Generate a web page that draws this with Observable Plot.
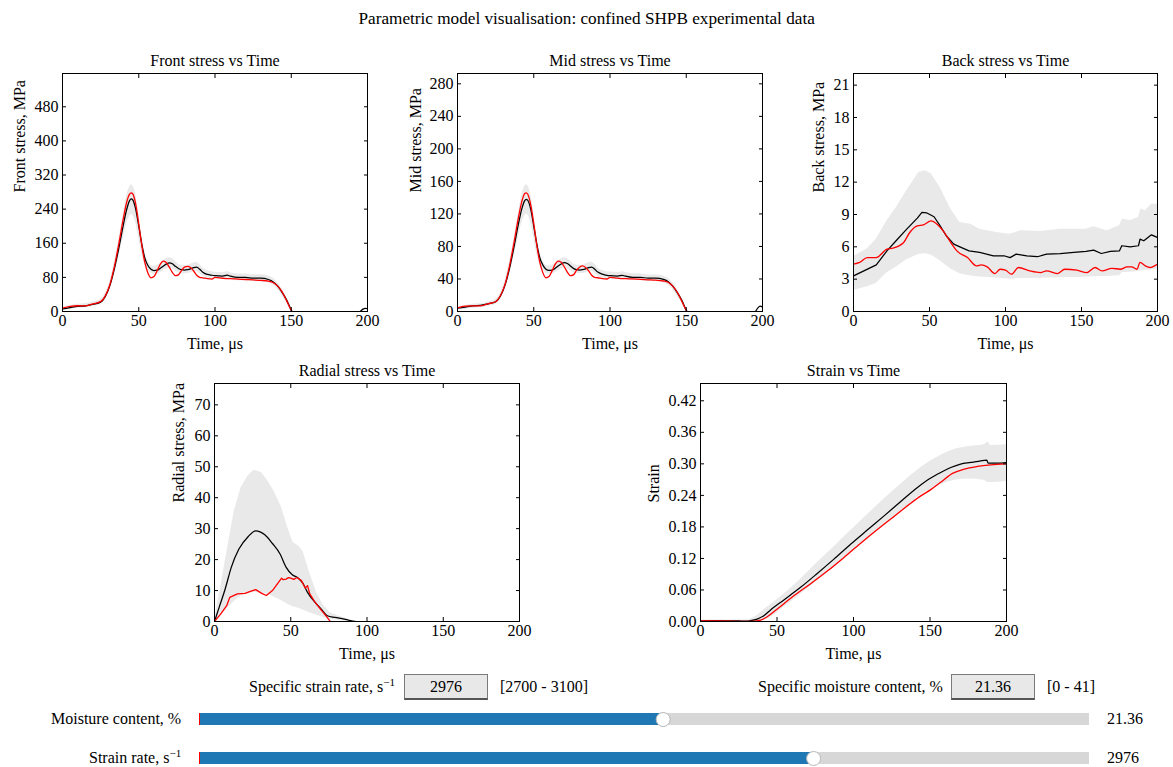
<!DOCTYPE html>
<html>
<head>
<meta charset="utf-8">
<script src="https://cdn.jsdelivr.net/npm/d3@7"></script>
<script src="https://cdn.jsdelivr.net/npm/@observablehq/plot@0.6"></script>
<style>
  body { margin: 0; background: #fff; font-family: "Liberation Serif", "Times New Roman", serif; color: #000; }
  #root { position: relative; width: 1173px; height: 767px; overflow: hidden; }
  .abs { position: absolute; white-space: nowrap; font-size: 16px; line-height: 1; }
  .box { position: absolute; background: #e8e8e8; border: 1px solid #7a7a7a; border-bottom: 2px solid #555;
         box-sizing: border-box; font-size: 16px; display: flex; align-items: center; justify-content: center; }
  sup { font-size: 11px; vertical-align: 0; position: relative; top: -6px; }
  svg { overflow: visible; }
</style>
</head>
<body>
<div id="root"></div>
<script>
// ---- time grid shared by front and mid stress ----
const timeFM = [0,5,10,15,20, 25,28,31,34,37, 40,42,44,45,46, 48,50,52,54,56, 58,60,62,64,66, 68,70,72,74,76,
                78,80,82,84,86, 88,90,92,95,98, 100,105,108,110,115, 120,125,130,135,138, 141,144,147,150,153];

const frontMean  = [6,9,12,13,17, 22,35,60,100,150, 205,238,260,264,262, 240,200,158,125,108, 99,96,97,101,106,
                    111,114,112,106,101, 98,97,98,100,103, 104,99,92,87,85, 84,83,85,83,80, 80,78,78,75,70, 60,45,27,3,-15];
const frontRed   = [8,12,13.5,13,18, 23,36,62,105,160, 220,255,275,278,276, 252,205,155,115,90, 79,82,95,110,118,
                    115,104,92,84,86, 96,104,106,103,95, 85,80,79,77,76, 80,78,77,77,76, 75,74,73,71,68, 60,46,25,3,-12];
const frontUpper = [10,14,17,18,22, 28,42,70,115,170, 232,270,292,297,295, 275,230,180,140,118, 108,106,108,112,118,
                    123,126,124,118,111, 108,107,108,111,114, 115,110,102,96,93, 92,91,93,91,88, 88,86,86,83,78, 68,53,33,8,-10];
const frontLower = [3,5,8,9,12, 16,28,50,85,128, 175,205,222,228,226, 208,172,135,108,97, 90,87,87,91,95,
                    99,102,100,95,91, 89,88,89,90,93, 94,89,83,79,77, 76,75,77,75,72, 72,70,70,67,62, 52,37,21,-2,-20];

const midMean  = [4,5.5,7,7.5,9.5, 12,18.5,31.5,52,79, 108,125,136,138,137, 126,105,83,66,57, 52,50.5,51,53,56,
                  58.5,60,59,56,53, 51.5,51,51.5,52.5,54, 54.5,52,48.5,46,44.5, 44,43.5,44.5,43.5,42, 42,41,41,39.5,37, 31.5,23.5,14,1.5,-8];
const midRed   = [4.5,6.5,7,7,9.5, 12,19,32.5,55,84, 116,134,145,146,144.5, 131.5,108,81.5,60.5,47.5, 41.5,43,50,58,62,
                  60.5,55,48.5,44,45, 50.5,54.5,56,54,50, 44.5,42,41.5,40.5,40, 42,41,40.5,40.5,40, 39.5,39,38.5,37.5,36, 31.5,24,13,1.5,-6];
const midUpper = [5.5,7.5,9,9.5,11.5, 15,22,37,60.5,89.5, 122,142,153.5,156,155, 144.5,121,94.5,73.5,62, 57,56,57,59,62,
                  64.5,66,65,62,58.5, 57,56.5,57,58.5,60, 60.5,58,53.5,50.5,49, 48.5,48,49,48,46.5, 46.5,45,45,43.5,41, 36,28,17.5,4,-5];
const midLower = [1.5,2.5,4,5,6.5, 8.5,14.5,26,44.5,67.5, 92,108,117,120,119, 109.5,90.5,71,57,51, 47.5,46,46,48,50,
                  52,53.5,52.5,50,48, 47,46.5,47,47.5,49, 49.5,47,43.5,41.5,40.5, 40,39.5,40.5,39.5,38, 38,37,37,35,32.5, 27.5,19.5,11,-1,-10];

// the mean curves swing back above zero just before 200 µs
const timeTail  = [160,175,188,192,194,195.5,197,198.5,200];
const frontTail = [-40,-45,-30,-12,-3,1,5.5,7.5,6.5];
const midTail   = [-20,-22,-15,-6,-1.5,0.5,4.5,6.5,5.5];

// ---- back stress ----
const backTimeMean = [0,15,22,28,35, 42,45,48,53,57, 61,66,70,76,83, 92,99,103,107,114, 121,127,136,145,153,
                      158,163,169,175,176.5, 182,187.5,188.5,191,196, 200];
const backMean     = [3.3,4.33,5.63,6.56,7.64, 8.66,9.19,9.16,8.79,7.95, 7.03,6.25,6.0,5.63,5.48, 5.17,5.17,5.0,5.32,5.17,
                      5.08,5.32,5.38,5.48,5.57, 5.69,5.38,5.57,5.63,6.1, 6.0,6.1,6.71,6.56,7.11, 6.87];
const backTimeRed  = [0,4,9,15,22, 26,33,37,42,46, 51,55,59,64,68, 75,81,84,88,93, 96.5,100,104,108.5,116,
                      123,127,134,139,147, 153.5,159,163.5,170,175.5, 180,183,186.5,188.5,192, 195,200];
const backRed      = [4.39,4.55,5.0,5.0,5.79, 5.88,6.4,7.33,7.95,8.04, 8.41,8.1,7.48,6.4,5.63, 5.0,4.23,4.33,4.14,3.52,
                      3.92,3.83,3.46,4.08,3.77, 3.61,3.77,3.52,3.92,3.83, 3.61,4.08,3.77,4.01,3.92, 4.14,4.14,3.92,4.55,4.23, 4.08,4.39];
const backTimeBand = [0,9,15,22,28, 35,43,47,51,57, 64,70,77,83,94, 103,110,123,136,153, 158,167,175,177,182, 187.5,189,192,196,200];
const backUpper    = [5.1,5.8,6.7,8.4,9.6, 11.2,12.9,13.05,12.8,11.5, 9.5,8.26,8.1,7.64,7.33, 7.17,7.48,7.42,7.64,7.64,
                      7.86,7.48,7.95,8.57,8.41, 8.72,9.5,9.35,9.96,9.96];
const backLower    = [1.95,2.3,2.6,3.6,4.1, 4.8,5.3,5.35,5.25,4.7, 3.95,3.5,3.3,3.2,3.1, 3.0,3.05,3.09,3.12,3.18,
                      3.22,3.25,3.31,3.62,3.65, 3.7,3.77,3.8,3.85,3.92];

// ---- radial stress ----
const radialTimeMean = [0,3,7,11,16, 22,27,33,38,43, 47,51,55,58,61, 66,70,74,79,85, 90,93,200];
const radialMean     = [0,4.5,10.5,17.5,23.4, 27.4,29.3,28,25.2,21.8, 17.5,15.1,14.0,12.3,9.4, 6.15,4.0,1.85,1.3,0.8, 0.2,0,0];
const radialTimeRed  = [0,4,8,10,15, 20,24,27,31,34, 38,44,45,47,48.5, 50,52,54,57,59.5, 61,62.5,66,70,73, 75.5,76.5];
const radialRed      = [0,2.4,5.1,7.8,8.9, 9.1,9.8,10.3,9.1,8.4, 10.0,14.0,13.5,13.7,14.2, 14.0,13.6,14.2,13.2,10.8,
                        11.6,8.9,6.2,3.7,1.9, 0.3,-0.5];
const radialTimeBand = [0,4,9,13,17.5, 22,26,31,35,39, 44,48,51.5,55,58, 62,67,71,75.5,81, 87.5,92];
const radialUpper    = [0.5,11,25,35.7,43.3, 47,48.9,48.1,45.4,42.2, 36.8,30.4,25.5,24.4,22.8, 16.3,9.3,5.6,2.9,1.8, 0.8,0];
const radialLower    = [0,2,4.5,6.5,8.3, 9,9.4,9.2,8.9,7.9, 6.7,5.6,4.8,4.3,3.7, 2.9,2.0,1.4,0.8,0.3, 0.1,0];

// ---- strain ----
const strainTimeMean = [0,10,20,25,30, 32.7,37,41.4,45.8,54.5, 65.4,76.3,87.2,98.1,109, 120,130.9,141.8,150.5,157,
                        163.6,170,176.7,183.2,187.1, 188,194,200];
const strainMean     = [0.001,0.0015,0.0012,0.001,0.0005, 0.0015,0.0045,0.011,0.022,0.041, 0.065,0.0914,0.1187,0.147,0.174,
                        0.201,0.2284,0.2551,0.273,0.2835, 0.293,0.2995,0.3026,0.3058,0.307, 0.3013,0.3013,0.3026];
const strainTimeRed  = [0,10,20,28,32.7, 39.3,43.6,50.2,61,72, 82.9,93.8,104.7,115.6,126.5, 137.4,144,150.5,157,164.7,
                        172.3,181,189.7,200];
const strainRed      = [0.001,0.0012,0.0008,0,0, 0.0025,0.009,0.024,0.049,0.072, 0.096,0.122,0.149,0.175,0.2,
                        0.225,0.239,0.251,0.265,0.282, 0.29,0.295,0.298,0.3];
const strainTimeBand = [0,30,32.7,43.6,54.5, 65.4,76.3,87.2,98.1,109, 120,130.9,141.8,152.7,163.6, 174.5,185.4,188,189.7,200];
const strainUpper    = [0.003,0.003,0.0048,0.027,0.052, 0.0805,0.112,0.142,0.1725,0.203, 0.233,0.261,0.288,0.309,0.325,
                        0.3325,0.3363,0.341,0.335,0.3363];
const strainLower    = [0,0,0,0.0048,0.027, 0.052,0.077,0.104,0.131,0.157, 0.182,0.2076,0.236,0.255,0.267,
                        0.271,0.269,0.2646,0.2646,0.2665];

// ---- ticks ----
const timeTicks   = [0, 50, 100, 150, 200];
const frontTicks  = [0, 80, 160, 240, 320, 400, 480];
const midTicks    = [0, 40, 80, 120, 160, 200, 240, 280];
const backTicks   = [0, 3, 6, 9, 12, 15, 18, 21];
const radialTicks = [0, 10, 20, 30, 40, 50, 60, 70];
const strainTicks = [0, 0.06, 0.12, 0.18, 0.24, 0.30, 0.36, 0.42];

// ---- controls ----
const strainRate = 2976;
const strainRateRange = [2700, 3100];
const moisture = 21.36;
const moistureRange = [0, 41];

const root = document.getElementById("root");

function series(t, v) { return t.map((x, i) => ({t: x, v: v[i]})); }
function band(t, lo, hi) { return t.map((x, i) => ({t: x, lo: lo[i], hi: hi[i]})); }

const ML = 62, MR = 14, MT = 30, MB = 46;

function panel(cfg) {
  const [fx, fy, fw, fh] = cfg.frame;
  const curve = cfg.curve || "monotone-x";
  const chart = Plot.plot({
    width: fw + ML + MR,
    height: fh + MT + MB,
    marginLeft: ML, marginRight: MR, marginTop: MT, marginBottom: MB,
    style: {fontFamily: '"Liberation Serif", serif', fontSize: "16px", color: "#000", background: "transparent", overflow: "visible"},
    x: {domain: [0, 200], label: null},
    y: {domain: cfg.yDomain, label: null},
    marks: [
      Plot.areaY(cfg.band, {x: "t", y1: "lo", y2: "hi", fill: "#e9e9e9", curve: cfg.bandCurve || curve, clip: true}),
      Plot.lineY(cfg.mean, {x: "t", y: "v", stroke: "#000", strokeWidth: 1.25, curve: cfg.meanCurve || curve, clip: true}),
      Plot.lineY(cfg.red, {x: "t", y: "v", stroke: "#ff0000", strokeWidth: 1.3, curve: cfg.redCurve || curve, clip: true}),
      Plot.frame({stroke: "#000", strokeWidth: 1}),
      Plot.axisX({anchor: "bottom", ticks: timeTicks, tickSize: -4, tickPadding: 7, label: null}),
      Plot.axisX({anchor: "top", ticks: timeTicks, tickSize: -4, tickFormat: () => "", label: null}),
      Plot.axisY({anchor: "left", ticks: cfg.yTicks, tickSize: -4, tickPadding: 8, tickFormat: cfg.yFormat || (d => String(d)), label: null}),
      Plot.axisY({anchor: "right", ticks: cfg.yTicks, tickSize: -4, tickFormat: () => "", label: null}),
      Plot.text([cfg.title], {text: d => d, frameAnchor: "top", dy: -13, lineAnchor: "middle"}),
      Plot.text([cfg.ylabel], {text: d => d, frameAnchor: "left", rotate: -90, dx: -cfg.ylabelOffset, lineAnchor: "middle"}),
      Plot.text(["Time, μs"], {text: d => d, frameAnchor: "bottom", dy: 32, lineAnchor: "middle"})
    ]
  });
  chart.style.position = "absolute";
  chart.style.left = (fx - ML) + "px";
  chart.style.top = (fy - MT) + "px";
  root.appendChild(chart);
}

panel({
  frame: [62, 73, 305, 238], yDomain: [0, 558], yTicks: frontTicks,
  title: "Front stress vs Time", ylabel: "Front stress, MPa", ylabelOffset: 43,
  band: band(timeFM, frontLower, frontUpper),
  mean: series(timeFM.concat(timeTail), frontMean.concat(frontTail)),
  red: series(timeFM, frontRed)
});
panel({
  frame: [457, 73, 305, 238], yDomain: [0, 292.7], yTicks: midTicks,
  title: "Mid stress vs Time", ylabel: "Mid stress, MPa", ylabelOffset: 42,
  band: band(timeFM, midLower, midUpper),
  mean: series(timeFM.concat(timeTail), midMean.concat(midTail)),
  red: series(timeFM, midRed)
});
panel({
  frame: [853, 73, 304, 238], yDomain: [0, 22.08], yTicks: backTicks,
  title: "Back stress vs Time", ylabel: "Back stress, MPa", ylabelOffset: 35,
  band: band(backTimeBand, backLower, backUpper), bandCurve: "linear", meanCurve: "linear",
  mean: series(backTimeMean, backMean),
  red: series(backTimeRed, backRed)
});
panel({
  frame: [214, 383, 305, 238], yDomain: [0, 76.9], yTicks: radialTicks,
  title: "Radial stress vs Time", ylabel: "Radial stress, MPa", ylabelOffset: 36,
  band: band(radialTimeBand, radialLower, radialUpper), curve: "linear",
  mean: series(radialTimeMean, radialMean), meanCurve: "monotone-x",
  red: series(radialTimeRed, radialRed)
});
panel({
  frame: [700, 383, 306, 238], yDomain: [0, 0.4529], yTicks: strainTicks, yFormat: d3.format(".2f"),
  title: "Strain vs Time", ylabel: "Strain", ylabelOffset: 47,
  band: band(strainTimeBand, strainLower, strainUpper),
  mean: series(strainTimeMean, strainMean),
  red: series(strainTimeRed, strainRed)
});

// ---- page title and text helpers ----
function addText(html, x, yCenter, align, size) {
  const d = document.createElement("div");
  d.className = "abs";
  if (size) d.style.fontSize = size + "px";
  d.innerHTML = html;
  root.appendChild(d);
  const w = d.offsetWidth, h = d.offsetHeight;
  const left = align === "right" ? x - w : align === "center" ? x - w / 2 : x;
  d.style.left = left + "px";
  d.style.top = (yCenter - h / 2) + "px";
  return d;
}
addText("Parametric model visualisation: confined SHPB experimental data", 586.5, 18, "center", 17.2);

// ---- input boxes ----
addText("Specific strain rate, s<sup>−1</sup>", 395, 687, "right");
const box1 = document.createElement("div");
box1.className = "box";
Object.assign(box1.style, {left: "404px", top: "674px", width: "84px", height: "26px"});
box1.textContent = String(strainRate);
root.appendChild(box1);
addText(`[${strainRateRange[0]} - ${strainRateRange[1]}]`, 500, 687, "left");

addText("Specific moisture content, %", 943, 687, "right");
const box2 = document.createElement("div");
box2.className = "box";
Object.assign(box2.style, {left: "951px", top: "674px", width: "84px", height: "26px"});
box2.textContent = moisture.toFixed(2);
root.appendChild(box2);
addText(`[${moistureRange[0]} - ${moistureRange[1]}]`, 1047, 687, "left");

// ---- sliders ----
function slider(label, value, range, yCenter, valueText) {
  const trackH = 12, pad = 4;
  const s = Plot.plot({
    width: 890, height: trackH + 2 * pad,
    marginLeft: 0, marginRight: 0, marginTop: pad, marginBottom: pad,
    style: {background: "transparent", overflow: "visible"},
    x: {domain: range, axis: null},
    y: {axis: null},
    marks: [
      Plot.barX([range], {x1: d => d[0], x2: d => d[1], fill: "#d7d7d7"}),
      Plot.barX([value], {x1: range[0], x2: d => d, fill: "#1f77b4"}),
      Plot.ruleX([range[0]], {stroke: "#ff0000", strokeWidth: 1}),
      Plot.dot([value], {x: d => d, r: 7, fill: "#fff", stroke: "#b8b8b8", strokeWidth: 1})
    ]
  });
  s.style.position = "absolute";
  s.style.left = "199px";
  s.style.top = (yCenter - trackH / 2 - pad) + "px";
  root.appendChild(s);
  addText(label, 181, yCenter, "right");
  addText(valueText, 1107, yCenter, "left");
}
slider("Moisture content, %", moisture, moistureRange, 719, moisture.toFixed(2));
slider("Strain rate, s<sup>−1</sup>", strainRate, strainRateRange, 758, String(strainRate));
</script>
</body>
</html>
